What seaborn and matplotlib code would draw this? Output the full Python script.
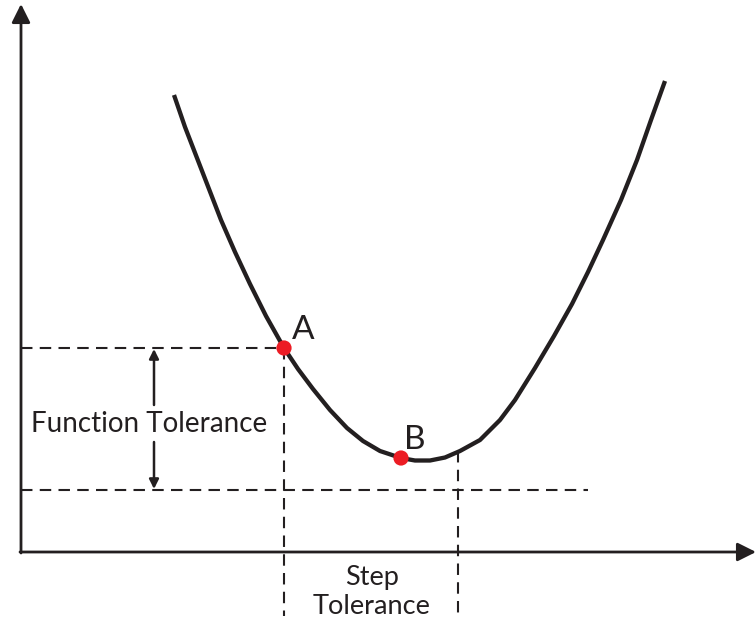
import pandas as pd
import seaborn as sns
import matplotlib.pyplot as plt

# Curve (pixel space, y grows downward)
curve_x = [174, 185, 197, 209, 221, 235, 250, 266, 284, 298, 313, 330, 347, 363, 380, 401,
           415, 430, 445, 460, 480, 500, 515, 535, 554, 572, 588, 603, 621, 637, 651, 665]
curve_y = [95, 127, 158, 189, 220, 252, 284, 316, 348, 369, 389, 410, 428, 441, 451, 458,
           460.5, 460.5, 457.5, 451, 440, 420, 400, 368, 336, 304, 272, 240, 200, 160, 120, 81]

points = ["A", "B"]
point_x = [284, 401]
point_y = [348, 458]

f_top, f_bottom = 348, 490    # function tolerance levels
s_left, s_right = 284, 458    # step tolerance positions

ink = "#231f20"
red = "#ec1c24"

sns.set_theme(style="white")
plt.rcParams["font.family"] = ["Lato", "DejaVu Sans"]

fig = plt.figure(figsize=(7.56, 6.24), dpi=100)
ax = fig.add_axes([0, 0, 1, 1])

# axes with arrow heads
ax.annotate("", xy=(21, 4), xytext=(21, 553),
            arrowprops=dict(arrowstyle="-|>", color=ink, lw=2, mutation_scale=28, shrinkA=0, shrinkB=0))
ax.annotate("", xy=(756, 552), xytext=(20, 552),
            arrowprops=dict(arrowstyle="-|>", color=ink, lw=2, mutation_scale=28, shrinkA=0, shrinkB=0))

# dashed guides
dash = dict(color=ink, lw=1.5, linestyle=(0, (5.5, 3.5)))
ax.plot([21, s_left], [f_top, f_top], **dash)
ax.plot([21, 588], [f_bottom, f_bottom], **dash)
ax.plot([s_left, s_left], [f_top, 616], **dash)
ax.plot([s_right, s_right], [451, 616], **dash)

# function tolerance arrows
arr = dict(arrowstyle="-|>", color=ink, lw=1.8, mutation_scale=14, shrinkA=0, shrinkB=0)
ax.annotate("", xy=(154, 349), xytext=(154, 405), arrowprops=arr)
ax.annotate("", xy=(154, 489), xytext=(154, 442), arrowprops=arr)

# the curve
df = pd.DataFrame({"x": curve_x, "y": curve_y})
sns.lineplot(data=df, x="x", y="y", sort=False, color=ink, lw=3.1, ax=ax,
             solid_joinstyle="round", solid_capstyle="butt")

sns.scatterplot(x=point_x, y=point_y, color=red, s=120, edgecolor="none", zorder=5, ax=ax)

ax.text(303, 330, "A", fontsize=24, color=ink, ha="center", va="center")
ax.text(415, 440, "B", fontsize=24, color=ink, ha="center", va="center")
ax.text(149, 424, "Function Tolerance", fontsize=20, color=ink, ha="center", va="center")
ax.text(372, 592, "Step\nTolerance", fontsize=19.5, color=ink, ha="center", va="center",
        linespacing=1.2)

ax.set_xlim(0, 756)
ax.set_ylim(624, 0)
ax.axis("off")
fig.savefig("out.png", dpi=100)
